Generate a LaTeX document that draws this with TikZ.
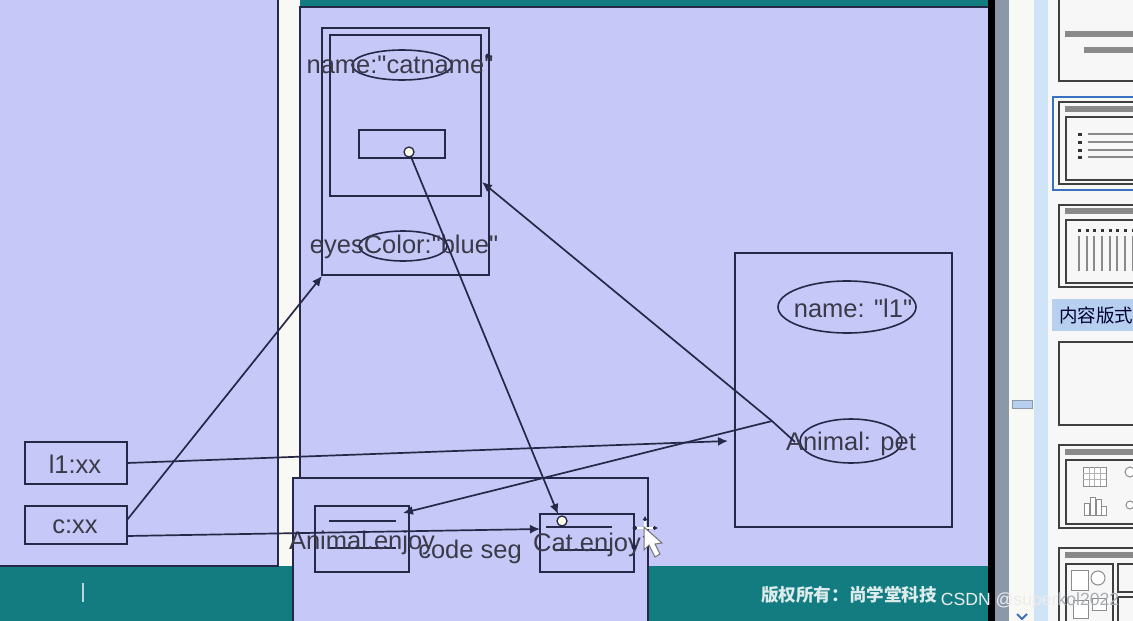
\documentclass[tikz,border=0pt]{standalone}
\usepackage{fontspec}
\setmainfont{Liberation Sans}
\newfontfamily\lbl{Liberation Sans}
\newfontfamily\cjk{Noto Sans CJK SC}
\usetikzlibrary{arrows.meta,shapes.geometric}
\definecolor{panel}{HTML}{C6C8F8}
\definecolor{ln}{HTML}{262848}
\definecolor{teal1}{HTML}{137C80}
\definecolor{gapw}{HTML}{F8F8F4}
\definecolor{txt}{HTML}{3A3A48}
\definecolor{thumbg}{HTML}{8A8A8A}
\definecolor{slate}{HTML}{8C98A8}
\definecolor{scrollb}{HTML}{D0E4F8}
\definecolor{hdrb}{HTML}{B8D0F0}
\definecolor{selb}{HTML}{3A70C0}
\definecolor{wmgray}{HTML}{A8AEB4}
\tikzset{
  box/.style={draw=ln,fill=panel,line width=1.7pt,inner sep=0pt,outer sep=0pt},
  oval/.style={draw=ln,ellipse,line width=1.6pt,inner sep=0pt,outer sep=0pt},
  lab/.style={text=txt,font=\lbl\fontsize{25.5}{26}\selectfont,inner sep=0pt},
  conn/.style={draw=ln,line width=1.7pt},
  arr/.style={conn,-{Latex[length=10pt,width=9pt]}},
  thumb/.style={draw=black!75,fill=white!97!black,line width=1.6pt},
  bar/.style={fill=thumbg},
  pin/.style={circle,draw=ln,fill=white!90!yellow,line width=1.3pt,inner sep=0pt,minimum size=10pt,outer sep=0pt}
}
\begin{document}
\begin{tikzpicture}[x=1pt,y=-1pt]
\useasboundingbox (0,0) rectangle (1133,621);
% background
\fill[gapw] (0,0) rectangle (1133,621);
\fill[teal1] (0,566) rectangle (988,621);
\fill[teal1] (300,0) rectangle (988,6);
\fill[panel] (0,0) rectangle (278,566);
\draw[ln,line width=1.5pt] (278,0) -- (278,566) -- (0,566);
\fill[panel] (300,7) rectangle (988,566);
\draw[ln,line width=1.5pt] (300,566) -- (300,7) -- (988,7);
\fill[black] (988,0) rectangle (995,621);
\fill[slate] (995,0) rectangle (1009,621);
\fill[gapw] (1009,0) rectangle (1034,621);
\fill[scrollb] (1034,0) rectangle (1048,621);
\fill[white!97!black] (1048,0) rectangle (1133,621);
\fill[hdrb,draw=slate] (1012,400) rectangle (1032,408);
\draw[selb,line width=2pt] (1017,614) -- (1022,619) -- (1027,614);
% thumbnails
\draw[thumb] (1059,-3) rectangle (1140,81);
\fill[bar] (1065,31) rectangle (1133,37);
\fill[bar] (1084,47) rectangle (1133,53);
\draw[selb,line width=2pt,fill=white!97!black] (1053,97) rectangle (1140,190);
\draw[thumb] (1059,102) rectangle (1140,184);
\fill[bar] (1065,106) rectangle (1133,112);
\draw[thumb,line width=2pt] (1066,117) rectangle (1140,180);
\foreach \yy in {134,142,150,157}{
  \fill[black!80] (1078,\yy-1.5) rectangle (1082,\yy+1.5);
  \draw[thumbg,line width=2.6pt] (1088,\yy) -- (1133,\yy);
}
\draw[thumb] (1059,205) rectangle (1140,287);
\fill[bar] (1065,208) rectangle (1133,214);
\draw[thumb,line width=2pt] (1066,220) rectangle (1140,283);
\foreach \xx in {1079,1087,1094,1102,1110,1117,1125,1133}{
  \fill[black!80] (\xx-1.5,229) rectangle (\xx+1.5,232);
  \draw[thumbg,line width=2.6pt] (\xx,236) -- (\xx,271);
}
\fill[hdrb] (1052,299) rectangle (1133,331);
\node[anchor=west,inner sep=0pt,text=black!80!blue,font=\cjk\fontsize{18.5}{19}\selectfont] (hdr) at (1059,315) {内容版式};
\draw[thumb] (1059,342) rectangle (1140,425);
\draw[thumb] (1059,445) rectangle (1140,528);
\fill[bar] (1065,449) rectangle (1133,455);
\draw[thumb,line width=2pt] (1066,460) rectangle (1140,524);
\draw[black!45,fill=white,line width=1pt] (1083,467) rectangle (1106,486);
\foreach \xx in {1089,1094,1100} \draw[black!30,line width=.8pt] (\xx,467) -- (\xx,486);
\foreach \yy in {473,479} \draw[black!30,line width=.8pt] (1083,\yy) -- (1106,\yy);
\foreach \xx/\yy in {1087/503,1093/497,1099/499,1104/506}
  \draw[black!45,fill=white,line width=1pt] (\xx-2.5,\yy) rectangle (\xx+2.5,515);
\draw[black!45,fill=white,line width=1pt] (1130,472) circle (5);
\draw[black!45,fill=white,line width=1pt] (1130,505) circle (4);
\draw[thumb] (1059,548) rectangle (1140,630);
\fill[bar] (1065,552) rectangle (1133,558);
\draw[thumb] (1066,564) rectangle (1113,630);
\draw[thumb] (1118,564) rectangle (1140,592);
\draw[thumb] (1118,597) rectangle (1140,630);
\draw[black!45,fill=white,line width=1pt] (1071,570) rectangle (1088,590);
\draw[black!45,fill=white,line width=1pt] (1098,578) circle (7);
\draw[black!45,fill=white,line width=1pt] (1092,598) rectangle (1106,610);
\draw[black!45,fill=white,line width=1pt] (1073,600) rectangle (1088,618);
% band text
\node[text=white!85!teal1,font=\cjk\bfseries\fontsize{17.6}{18}\selectfont,inner sep=0pt] (copyr) at (849,595) {版权所有：尚学堂科技};
\draw[white!70!teal1,line width=1.4pt] (83,583) -- (83,602);
% stack boxes
\node[box,minimum width=102pt,minimum height=42pt] (l1) at (76,463) {};
\node[box,minimum width=102pt,minimum height=38pt] (c) at (76,525) {};
\node[lab] (l1t) at (75,464) {l1:xx};
\node[lab] (ct) at (75,527) {c:xx};
% heap
\node[box,minimum width=167pt,minimum height=247pt] (outer) at (405.5,151.5) {};
\node[box,minimum width=151pt,minimum height=161pt] (inner) at (405.5,115.5) {};
\node[oval,minimum width=100pt,minimum height=30pt] (nameov) at (402,65) {};
\node[box,minimum width=86pt,minimum height=28pt] (ref) at (402,144) {};
\node[oval,minimum width=88pt,minimum height=30pt] (eyeov) at (403,246) {};
\node[lab] (namet) at (400,65) {name:"catname"};
\node[lab] (eyet) at (404,247) {eyesColor:"blue"};
\fill[ln] (488,56) circle (2.5);
% animal
\node[box,minimum width=217pt,minimum height=274pt] (animal) at (843.5,390) {};
\node[oval,minimum width=138pt,minimum height=52pt] (l1ov) at (847,307) {};
\node[oval,minimum width=102pt,minimum height=44pt] (petov) at (851,441) {};
\node[lab] (l1nm) at (853,308) {name: "l1"};
\node[lab] (pett) at (851,444) {Animal: pet};
% code seg
\node[box,minimum width=355pt,minimum height=145pt] (code) at (470.5,550.5) {};
\node[box,minimum width=94pt,minimum height=66pt] (aen) at (362,539) {};
\node[box,minimum width=94pt,minimum height=58pt] (cen) at (587,543) {};
\coordinate (a1) at (329,521); \coordinate (a2) at (396,521);
\coordinate (a3) at (329,548); \coordinate (a4) at (396,548);
\coordinate (c1) at (546,527); \coordinate (c2) at (612,527);
\coordinate (c3) at (554,550); \coordinate (c4) at (612,550);
\draw[conn] (a1) -- (a2);
\draw[conn] (a3) -- (a4);
\draw[conn] (c1) -- (c2);
\draw[conn] (c3) -- (c4);
\node[lab] (aent) at (362,543) {Animal.enjoy};
\node[lab] (cent) at (587,545) {Cat.enjoy};
\node[lab] (codet) at (470,552) {code seg};
% connectors
\coordinate (petpt) at (772,421);
\coordinate (l1end) at (728,441);
\coordinate (cenin) at (540,529);
\coordinate (catin) at (558,514);
\coordinate (c1e) at (127,520);
\coordinate (c2e) at (127,536);
\coordinate (l1e) at (127,463);
\coordinate (outerpt) at (322,276);
\coordinate (innerpt) at (482,182);
\coordinate (aenin) at (403,513);
\draw[arr] (c1e) -- (outerpt);
\draw[arr] (l1e) -- (l1end);
\draw[arr] (c2e) -- (cenin);
\draw[arr] (petpt) -- (innerpt);
\draw[arr] (petpt) -- (aenin);
\draw[conn] (petpt) -- (795,442);
\node[pin] (pin1) at (409,152) {};
\node[pin] (pin2) at (562,521) {};
\draw[arr] (pin1) -- (catin);
\fill[ln] (634,547) circle (2.5);
% mouse cursor
\draw[ln,line width=2pt,{Latex[length=4pt,width=5pt]}-{Latex[length=4pt,width=5pt]}] (632,528) -- (658,528);
\draw[ln,line width=2pt,{Latex[length=4pt,width=5pt]}-{Latex[length=4pt,width=5pt]}] (645,516) -- (645,540);
\draw[white,line width=2pt] (637,528) -- (653,528) (645,521) -- (645,535);
\draw[black!55,fill=white,line width=1pt] (644,527) -- (644,550) -- (649,545) -- (655,557) -- (660,554) -- (655,544) -- (662,543) -- cycle;
% watermark
\node[font=\lbl\fontsize{17.6}{18}\selectfont,inner sep=0pt] (wm) at (1030,601) {\textcolor{white!85!gray}{CSDN @super}\textcolor{wmgray}{kol2022}};
\end{tikzpicture}
\end{document}
